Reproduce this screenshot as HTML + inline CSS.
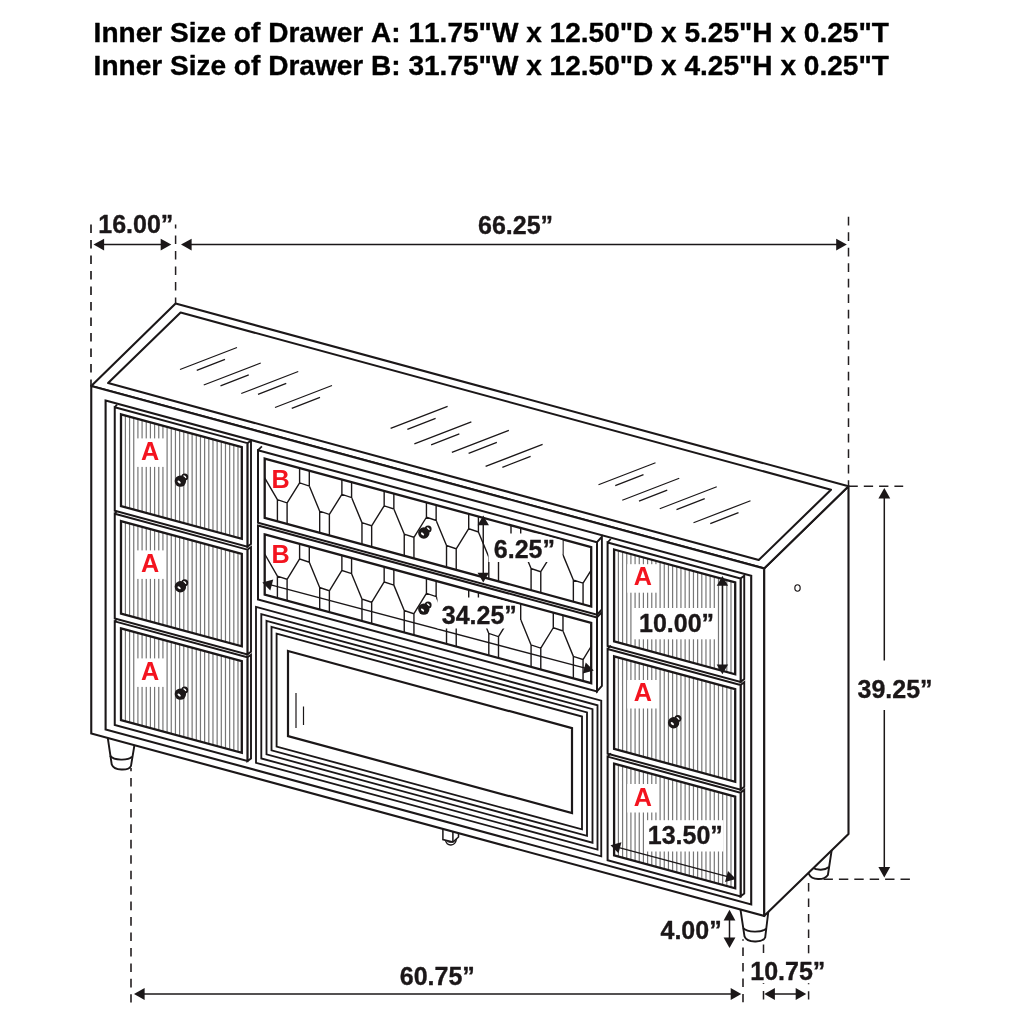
<!DOCTYPE html>
<html lang="en">
<head>
<meta charset="utf-8">
<title>Dresser dimensions</title>
<style>
html,body{margin:0;padding:0;background:#fff;}
body{width:1024px;height:1024px;overflow:hidden;}
svg{display:block;will-change:transform;}
</style>
</head>
<body>
<svg width="1024" height="1024" viewBox="0 0 1024 1024">
<g id="legs">
<path d="M107.50 736.00 L111.70 764.30 C114.20 770.90 128.50 771.10 131.00 765.80 L134.80 743.00 Z" fill="#fff" stroke="#1b1718" stroke-width="1.9" stroke-linejoin="round"/>
<path d="M110.00 755.60 C114.00 760.80 128.00 760.80 132.00 756.60" fill="none" stroke="#1b1718" stroke-width="1.9"/>
<path d="M740.40 909.00 L744.50 936.30 C747.00 942.90 762.70 943.10 765.20 937.30 L768.30 912.00 Z" fill="#fff" stroke="#1b1718" stroke-width="1.9" stroke-linejoin="round"/>
<path d="M743.20 928.20 C747.20 932.70 762.20 932.70 766.20 928.60" fill="none" stroke="#1b1718" stroke-width="1.9"/>
<path d="M805 866 L808.8 873.8 C812 880.5 824 880.6 827.9 875.0 L831.7 850 Z" fill="#fff" stroke="#1b1718" stroke-width="1.9" stroke-linejoin="round"/>
<path d="M812.0 867.2 C817 870.8 825 870.4 829.0 867.0" fill="none" stroke="#1b1718" stroke-width="1.9"/>
<path d="M445.3 839.6 Q446.5 845.2 451 845 Q455.5 844.6 456.5 839" fill="#fff" stroke="#1b1718" stroke-width="1.4"/>
<path d="M447.2 841.6 Q450.5 843.6 454.3 841.2" fill="none" stroke="#1b1718" stroke-width="1"/>
<path d="M442.9 826 L442.9 839.6 L452.9 842.1 L458.5 837.0 L458.5 830 Z" fill="#fff" stroke="#1b1718" stroke-width="1.5" stroke-linejoin="miter"/>
<path d="M452.9 830 L452.9 842.1" fill="none" stroke="#1b1718" stroke-width="1.5"/>
</g>
<g id="body">
<polygon points="764.10,568.48 848.50,486.25 848.50,833.90 764.10,915.98" fill="#fff" stroke="#1b1718" stroke-width="2.1" style="stroke-linejoin:round"/>
<polygon points="91.25,386.00 175.60,303.50 848.50,486.25 764.10,568.48" fill="#fff" stroke="#1b1718" stroke-width="2.1" style="stroke-linejoin:round"/>
<polygon points="108.10,383.10 180.60,312.50 831.00,489.75 758.75,560.00" fill="none" stroke="#1b1718" stroke-width="2.1" style="stroke-linejoin:round"/>
<polygon points="91.25,386.00 764.10,568.48 764.10,915.98 91.25,733.50" fill="#fff" stroke="#1b1718" stroke-width="2.1" />
<polygon points="105.60,400.59 751.20,575.68 751.20,904.48 105.60,729.39" fill="none" stroke="#1b1718" stroke-width="2.1" />
</g>
<g>
<polygon points="247.40,443.15 251.00,440.55 251.00,544.05 247.40,546.65" fill="#fff" stroke="#1b1718" stroke-width="1.9" />
<line x1="114.75" y1="407.17" x2="117.05" y2="404.57" stroke="#1b1718" stroke-width="1.7" />
<polygon points="114.75,407.17 247.40,443.15 247.40,546.65 114.75,510.67" fill="#fff" stroke="#1b1718" stroke-width="2.0" />
<clipPath id="dc1"><polygon points="121.00,414.27 241.80,447.03 241.80,538.83 121.00,506.07"/></clipPath>
<g clip-path="url(#dc1)">
<path d="M125.40 414.46V508.26M129.57 415.59V509.39M133.74 416.72V510.52M137.91 417.85V511.65M142.08 418.99V512.79M146.25 420.12V513.92M150.42 421.25V515.05M154.59 422.38V516.18M158.76 423.51V517.31M162.93 424.64V518.44M167.10 425.77V519.57M171.27 426.90V520.70M175.44 428.03V521.83M179.61 429.16V522.96M183.78 430.29V524.09M187.95 431.43V525.23M192.12 432.56V526.36M196.29 433.69V527.49M200.46 434.82V528.62M204.63 435.95V529.75M208.80 437.08V530.88M212.97 438.21V532.01M217.14 439.34V533.14M221.31 440.47V534.27M225.48 441.60V535.40M229.65 442.73V536.53M233.82 443.86V537.66M237.99 445.00V538.80" stroke="#777777" stroke-width="1.2" fill="none"/>
<rect x="136.90" y="438.40" width="28.80" height="28.50" fill="#fff"/>
</g>
<polygon points="121.00,414.27 241.80,447.03 241.80,538.83 121.00,506.07" fill="none" stroke="#1b1718" stroke-width="2.3" />
</g>
<g>
<polygon points="247.40,549.65 251.00,547.05 251.00,651.75 247.40,654.35" fill="#fff" stroke="#1b1718" stroke-width="1.9" />
<line x1="114.75" y1="513.67" x2="117.05" y2="511.07" stroke="#1b1718" stroke-width="1.7" />
<polygon points="114.75,513.67 247.40,549.65 247.40,654.35 114.75,618.37" fill="#fff" stroke="#1b1718" stroke-width="2.0" />
<clipPath id="dc2"><polygon points="121.00,521.07 241.80,553.83 241.80,646.33 121.00,613.57"/></clipPath>
<g clip-path="url(#dc2)">
<path d="M125.40 521.26V615.76M129.57 522.39V616.89M133.74 523.52V618.02M137.91 524.65V619.15M142.08 525.79V620.29M146.25 526.92V621.42M150.42 528.05V622.55M154.59 529.18V623.68M158.76 530.31V624.81M162.93 531.44V625.94M167.10 532.57V627.07M171.27 533.70V628.20M175.44 534.83V629.33M179.61 535.96V630.46M183.78 537.09V631.59M187.95 538.23V632.73M192.12 539.36V633.86M196.29 540.49V634.99M200.46 541.62V636.12M204.63 542.75V637.25M208.80 543.88V638.38M212.97 545.01V639.51M217.14 546.14V640.64M221.31 547.27V641.77M225.48 548.40V642.90M229.65 549.53V644.03M233.82 550.66V645.16M237.99 551.80V646.30" stroke="#777777" stroke-width="1.2" fill="none"/>
<rect x="136.90" y="550.40" width="28.80" height="28.50" fill="#fff"/>
</g>
<polygon points="121.00,521.07 241.80,553.83 241.80,646.33 121.00,613.57" fill="none" stroke="#1b1718" stroke-width="2.3" />
</g>
<g>
<polygon points="247.40,657.35 251.00,654.75 251.00,758.45 247.40,761.05" fill="#fff" stroke="#1b1718" stroke-width="1.9" />
<line x1="114.75" y1="621.37" x2="117.05" y2="618.77" stroke="#1b1718" stroke-width="1.7" />
<polygon points="114.75,621.37 247.40,657.35 247.40,761.05 114.75,725.07" fill="#fff" stroke="#1b1718" stroke-width="2.0" />
<clipPath id="dc3"><polygon points="121.00,628.47 241.80,661.23 241.80,752.83 121.00,720.07"/></clipPath>
<g clip-path="url(#dc3)">
<path d="M125.40 628.66V722.26M129.57 629.79V723.39M133.74 630.92V724.52M137.91 632.05V725.65M142.08 633.19V726.79M146.25 634.32V727.92M150.42 635.45V729.05M154.59 636.58V730.18M158.76 637.71V731.31M162.93 638.84V732.44M167.10 639.97V733.57M171.27 641.10V734.70M175.44 642.23V735.83M179.61 643.36V736.96M183.78 644.49V738.09M187.95 645.63V739.23M192.12 646.76V740.36M196.29 647.89V741.49M200.46 649.02V742.62M204.63 650.15V743.75M208.80 651.28V744.88M212.97 652.41V746.01M217.14 653.54V747.14M221.31 654.67V748.27M225.48 655.80V749.40M229.65 656.93V750.53M233.82 658.06V751.66M237.99 659.20V752.80" stroke="#777777" stroke-width="1.2" fill="none"/>
<rect x="136.90" y="658.40" width="28.80" height="28.50" fill="#fff"/>
</g>
<polygon points="121.00,628.47 241.80,661.23 241.80,752.83 121.00,720.07" fill="none" stroke="#1b1718" stroke-width="2.3" />
</g>
<g>
<polygon points="740.60,578.50 744.25,575.60 744.25,679.10 740.60,682.00" fill="#fff" stroke="#1b1718" stroke-width="1.9" />
<line x1="607.60" y1="542.43" x2="610.80" y2="539.03" stroke="#1b1718" stroke-width="1.7" />
<polygon points="607.60,542.43 740.60,578.50 740.60,682.00 607.60,645.93" fill="#fff" stroke="#1b1718" stroke-width="2.0" />
<clipPath id="dc4"><polygon points="614.10,549.50 735.20,582.34 735.20,674.24 614.10,641.40"/></clipPath>
<g clip-path="url(#dc4)">
<path d="M618.40 549.66V643.56M622.57 550.79V644.69M626.74 551.92V645.82M630.91 553.06V646.96M635.08 554.19V648.09M639.25 555.32V649.22M643.42 556.45V650.35M647.59 557.58V651.48M651.76 558.71V652.61M655.93 559.84V653.74M660.10 560.97V654.87M664.27 562.10V656.00M668.44 563.23V657.13M672.61 564.36V658.26M676.78 565.50V659.40M680.95 566.63V660.53M685.12 567.76V661.66M689.29 568.89V662.79M693.46 570.02V663.92M697.63 571.15V665.05M701.80 572.28V666.18M705.97 573.41V667.31M710.14 574.54V668.44M714.31 575.67V669.57M718.48 576.80V670.70M722.65 577.94V671.84M726.82 579.07V672.97M730.99 580.20V674.10" stroke="#777777" stroke-width="1.2" fill="none"/>
<rect x="627.30" y="564.20" width="30.50" height="28.50" fill="#fff"/>
<rect x="632.20" y="608.00" width="84.00" height="31.30" fill="#fff"/>
</g>
<polygon points="614.10,549.50 735.20,582.34 735.20,674.24 614.10,641.40" fill="none" stroke="#1b1718" stroke-width="2.3" />
</g>
<g>
<polygon points="740.60,685.00 744.25,682.10 744.25,786.80 740.60,789.70" fill="#fff" stroke="#1b1718" stroke-width="1.9" />
<line x1="607.60" y1="648.93" x2="610.80" y2="645.53" stroke="#1b1718" stroke-width="1.7" />
<polygon points="607.60,648.93 740.60,685.00 740.60,789.70 607.60,753.63" fill="#fff" stroke="#1b1718" stroke-width="2.0" />
<clipPath id="dc5"><polygon points="614.10,656.30 735.20,689.14 735.20,781.74 614.10,748.90"/></clipPath>
<g clip-path="url(#dc5)">
<path d="M618.40 656.46V751.06M622.57 657.59V752.19M626.74 658.72V753.32M630.91 659.86V754.46M635.08 660.99V755.59M639.25 662.12V756.72M643.42 663.25V757.85M647.59 664.38V758.98M651.76 665.51V760.11M655.93 666.64V761.24M660.10 667.77V762.37M664.27 668.90V763.50M668.44 670.03V764.63M672.61 671.16V765.76M676.78 672.30V766.90M680.95 673.43V768.03M685.12 674.56V769.16M689.29 675.69V770.29M693.46 676.82V771.42M697.63 677.95V772.55M701.80 679.08V773.68M705.97 680.21V774.81M710.14 681.34V775.94M714.31 682.47V777.07M718.48 683.60V778.20M722.65 684.74V779.34M726.82 685.87V780.47M730.99 687.00V781.60" stroke="#777777" stroke-width="1.2" fill="none"/>
<rect x="627.30" y="680.00" width="30.50" height="28.50" fill="#fff"/>
</g>
<polygon points="614.10,656.30 735.20,689.14 735.20,781.74 614.10,748.90" fill="none" stroke="#1b1718" stroke-width="2.3" />
</g>
<g>
<polygon points="740.60,792.70 744.25,789.80 744.25,893.50 740.60,896.40" fill="#fff" stroke="#1b1718" stroke-width="1.9" />
<line x1="607.60" y1="756.63" x2="610.80" y2="753.23" stroke="#1b1718" stroke-width="1.7" />
<polygon points="607.60,756.63 740.60,792.70 740.60,896.40 607.60,860.33" fill="#fff" stroke="#1b1718" stroke-width="2.0" />
<clipPath id="dc6"><polygon points="614.10,763.70 735.20,796.54 735.20,888.24 614.10,855.40"/></clipPath>
<g clip-path="url(#dc6)">
<path d="M618.40 763.86V857.56M622.57 764.99V858.69M626.74 766.12V859.82M630.91 767.26V860.96M635.08 768.39V862.09M639.25 769.52V863.22M643.42 770.65V864.35M647.59 771.78V865.48M651.76 772.91V866.61M655.93 774.04V867.74M660.10 775.17V868.87M664.27 776.30V870.00M668.44 777.43V871.13M672.61 778.56V872.26M676.78 779.70V873.40M680.95 780.83V874.53M685.12 781.96V875.66M689.29 783.09V876.79M693.46 784.22V877.92M697.63 785.35V879.05M701.80 786.48V880.18M705.97 787.61V881.31M710.14 788.74V882.44M714.31 789.87V883.57M718.48 791.00V884.70M722.65 792.14V885.84M726.82 793.27V886.97M730.99 794.40V888.10" stroke="#777777" stroke-width="1.2" fill="none"/>
<rect x="627.30" y="784.00" width="30.50" height="28.50" fill="#fff"/>
<rect x="646.00" y="820.20" width="77.50" height="31.30" fill="#fff"/>
</g>
<polygon points="614.10,763.70 735.20,796.54 735.20,888.24 614.10,855.40" fill="none" stroke="#1b1718" stroke-width="2.3" />
</g>
<g>
<polygon points="597.00,542.16 601.90,536.76 601.90,609.36 597.00,614.76" fill="#fff" stroke="#1b1718" stroke-width="1.9" />
<line x1="258.00" y1="450.22" x2="261.90" y2="446.42" stroke="#1b1718" stroke-width="1.7" />
<polygon points="258.00,450.22 597.00,542.16 597.00,614.76 258.00,522.82" fill="#fff" stroke="#1b1718" stroke-width="2.0" />
<clipPath id="dc7"><polygon points="264.70,458.54 591.20,547.09 591.20,606.49 264.70,517.94"/></clipPath>
<g clip-path="url(#dc7)">
<path d="M264.70 477.84L277.40 499.70M299.60 468.00L299.60 482.85L309.30 486.09L309.30 470.64M277.40 521.38L277.40 499.70L287.10 502.93L287.10 524.01M287.10 502.93L299.60 482.85M309.30 486.09L319.68 511.17M341.88 479.47L341.88 494.32L351.58 497.55L351.58 482.10M319.68 532.85L319.68 511.17L329.38 514.40L329.38 535.48M329.38 514.40L341.88 494.32M351.58 497.55L361.96 522.64M384.16 490.94L384.16 505.79L393.86 509.02L393.86 493.57M361.96 544.32L361.96 522.64L371.66 525.87L371.66 546.95M371.66 525.87L384.16 505.79M393.86 509.02L404.24 534.10M426.44 502.40L426.44 517.25L436.14 520.48L436.14 505.03M404.24 555.78L404.24 534.10L413.94 537.33L413.94 558.41M413.94 537.33L426.44 517.25M436.14 520.48L446.52 545.57M468.72 513.87L468.72 528.72L478.42 531.95L478.42 516.50M446.52 567.25L446.52 545.57L456.22 548.80L456.22 569.88M456.22 548.80L468.72 528.72M478.42 531.95L488.80 557.03M511.00 525.34L511.00 540.19L520.70 543.42L520.70 527.97M488.80 578.72L488.80 557.03L498.50 560.27L498.50 581.35M498.50 560.27L511.00 540.19M520.70 543.42L531.08 568.50M553.28 536.80L553.28 551.65L562.98 554.88L562.98 539.43M531.08 590.18L531.08 568.50L540.78 571.73L540.78 592.81M540.78 571.73L553.28 551.65M562.98 554.88L573.36 579.97M595.56 548.27L595.56 563.12L605.26 566.35L605.26 550.90M573.36 601.65L573.36 579.97L583.06 583.20L583.06 604.28M583.06 583.20L595.56 563.12M605.26 566.35L615.64 591.43" fill="none" stroke="#1b1718" stroke-width="1.4" stroke-linejoin="miter"/>
</g>
<polygon points="264.70,458.54 591.20,547.09 591.20,606.49 264.70,517.94" fill="none" stroke="#1b1718" stroke-width="2.3" />
</g>
<g>
<polygon points="597.00,617.46 601.90,612.06 601.90,685.96 597.00,691.36" fill="#fff" stroke="#1b1718" stroke-width="1.9" />
<line x1="258.00" y1="525.52" x2="258.01" y2="525.51" stroke="#1b1718" stroke-width="1.7" />
<polygon points="258.00,525.52 597.00,617.46 597.00,691.36 258.00,599.42" fill="#fff" stroke="#1b1718" stroke-width="2.0" />
<clipPath id="dc8"><polygon points="264.70,534.44 591.20,622.99 591.20,683.19 264.70,594.64"/></clipPath>
<g clip-path="url(#dc8)">
<path d="M264.70 554.00L277.40 576.11M299.60 543.90L299.60 558.95L309.30 562.19L309.30 546.54M277.40 598.08L277.40 576.11L287.10 579.34L287.10 600.71M287.10 579.34L299.60 558.95M309.30 562.19L319.68 587.58M341.88 555.37L341.88 570.42L351.58 573.65L351.58 558.00M319.68 609.55L319.68 587.58L329.38 590.81L329.38 612.18M329.38 590.81L341.88 570.42M351.58 573.65L361.96 599.04M384.16 566.84L384.16 581.89L393.86 585.12L393.86 569.47M361.96 621.02L361.96 599.04L371.66 602.27L371.66 623.65M371.66 602.27L384.16 581.89M393.86 585.12L404.24 610.51M426.44 578.30L426.44 593.35L436.14 596.58L436.14 580.93M404.24 632.48L404.24 610.51L413.94 613.74L413.94 635.11M413.94 613.74L426.44 593.35M436.14 596.58L446.52 621.98M468.72 589.77L468.72 604.82L478.42 608.05L478.42 592.40M446.52 643.95L446.52 621.98L456.22 625.21L456.22 646.58M456.22 625.21L468.72 604.82M478.42 608.05L488.80 633.44M511.00 601.24L511.00 616.29L520.70 619.52L520.70 603.87M488.80 655.42L488.80 633.44L498.50 636.67L498.50 658.05M498.50 636.67L511.00 616.29M520.70 619.52L531.08 644.91M553.28 612.70L553.28 627.75L562.98 630.98L562.98 615.33M531.08 666.88L531.08 644.91L540.78 648.14L540.78 669.51M540.78 648.14L553.28 627.75M562.98 630.98L573.36 656.38M595.56 624.17L595.56 639.22L605.26 642.45L605.26 626.80M573.36 678.35L573.36 656.38L583.06 659.61L583.06 680.98M583.06 659.61L595.56 639.22M605.26 642.45L615.64 667.84" fill="none" stroke="#1b1718" stroke-width="1.4" stroke-linejoin="miter"/>
</g>
<polygon points="264.70,534.44 591.20,622.99 591.20,683.19 264.70,594.64" fill="none" stroke="#1b1718" stroke-width="2.3" />
</g>
<polygon points="256.00,606.98 601.25,700.61 601.25,856.41 256.00,762.78" fill="#fff" stroke="#1b1718" stroke-width="1.85" />
<polygon points="261.30,614.12 597.50,705.29 597.50,849.59 261.30,758.42" fill="none" stroke="#1b1718" stroke-width="1.85" />
<polygon points="266.50,620.78 592.50,709.19 592.50,842.74 266.50,754.33" fill="none" stroke="#1b1718" stroke-width="1.85" />
<polygon points="271.50,626.78 587.00,712.35 587.00,835.85 271.50,750.28" fill="none" stroke="#1b1718" stroke-width="1.85" />
<polygon points="276.60,633.72 582.00,716.54 582.00,829.39 276.60,746.57" fill="none" stroke="#1b1718" stroke-width="1.85" />
<polygon points="288.00,651.06 572.00,728.08 572.00,813.08 288.00,736.06" fill="none" stroke="#1b1718" stroke-width="2.2" />
<line x1="296.00" y1="693.00" x2="296.00" y2="728.00" stroke="#1b1718" stroke-width="1.2" />
<line x1="303.50" y1="706.50" x2="303.50" y2="725.00" stroke="#1b1718" stroke-width="1.2" />
<line x1="483.25" y1="524.30" x2="483.25" y2="573.70" stroke="#1b1718" stroke-width="1.4" />
<polygon points="483.25,515.50 477.55,525.30 488.95,525.30" fill="#1b1718" stroke="none" stroke-width="0" />
<polygon points="483.25,582.50 477.55,572.70 488.95,572.70" fill="#1b1718" stroke="none" stroke-width="0" />
<line x1="270.81" y1="584.86" x2="585.24" y2="668.24" stroke="#1b1718" stroke-width="1.3" />
<polygon points="262.30,582.60 270.31,590.62 273.23,579.60" fill="#1b1718" stroke="none" stroke-width="0" />
<polygon points="593.75,670.50 582.82,673.50 585.74,662.48" fill="#1b1718" stroke="none" stroke-width="0" />
<line x1="722.40" y1="584.80" x2="722.40" y2="665.45" stroke="#1b1718" stroke-width="1.5" />
<polygon points="722.40,576.00 716.70,585.80 728.10,585.80" fill="#1b1718" stroke="none" stroke-width="0" />
<polygon points="722.40,674.25 716.70,664.45 728.10,664.45" fill="#1b1718" stroke="none" stroke-width="0" />
<line x1="619.00" y1="847.54" x2="727.50" y2="876.71" stroke="#1b1718" stroke-width="1.3" />
<polygon points="610.50,845.25 618.48,853.30 621.44,842.29" fill="#1b1718" stroke="none" stroke-width="0" />
<polygon points="736.00,879.00 725.06,881.96 728.02,870.95" fill="#1b1718" stroke="none" stroke-width="0" />
<g transform="translate(180.40 480.60)">
<circle cx="4.3" cy="-3.6" r="3.5" fill="#1b1718"/>
<ellipse cx="4.4" cy="-3.8" rx="1.9" ry="0.95" fill="#fff" transform="rotate(42 4.4 -3.8)"/>
<circle cx="0" cy="0.5" r="5.7" fill="#1b1718"/>
<ellipse cx="-1.25" cy="1.45" rx="1.95" ry="1.05" fill="#fff" transform="rotate(42 -1.25 1.45)"/>
</g>
<g transform="translate(180.40 586.30)">
<circle cx="4.3" cy="-3.6" r="3.5" fill="#1b1718"/>
<ellipse cx="4.4" cy="-3.8" rx="1.9" ry="0.95" fill="#fff" transform="rotate(42 4.4 -3.8)"/>
<circle cx="0" cy="0.5" r="5.7" fill="#1b1718"/>
<ellipse cx="-1.25" cy="1.45" rx="1.95" ry="1.05" fill="#fff" transform="rotate(42 -1.25 1.45)"/>
</g>
<g transform="translate(180.40 693.60)">
<circle cx="4.3" cy="-3.6" r="3.5" fill="#1b1718"/>
<ellipse cx="4.4" cy="-3.8" rx="1.9" ry="0.95" fill="#fff" transform="rotate(42 4.4 -3.8)"/>
<circle cx="0" cy="0.5" r="5.7" fill="#1b1718"/>
<ellipse cx="-1.25" cy="1.45" rx="1.95" ry="1.05" fill="#fff" transform="rotate(42 -1.25 1.45)"/>
</g>
<g transform="translate(423.80 532.50)">
<circle cx="4.3" cy="-3.6" r="3.5" fill="#1b1718"/>
<ellipse cx="4.4" cy="-3.8" rx="1.9" ry="0.95" fill="#fff" transform="rotate(42 4.4 -3.8)"/>
<circle cx="0" cy="0.5" r="5.7" fill="#1b1718"/>
<ellipse cx="-1.25" cy="1.45" rx="1.95" ry="1.05" fill="#fff" transform="rotate(42 -1.25 1.45)"/>
</g>
<g transform="translate(423.80 608.60)">
<circle cx="4.3" cy="-3.6" r="3.5" fill="#1b1718"/>
<ellipse cx="4.4" cy="-3.8" rx="1.9" ry="0.95" fill="#fff" transform="rotate(42 4.4 -3.8)"/>
<circle cx="0" cy="0.5" r="5.7" fill="#1b1718"/>
<ellipse cx="-1.25" cy="1.45" rx="1.95" ry="1.05" fill="#fff" transform="rotate(42 -1.25 1.45)"/>
</g>
<g transform="translate(673.60 722.20)">
<circle cx="4.3" cy="-3.6" r="3.5" fill="#1b1718"/>
<ellipse cx="4.4" cy="-3.8" rx="1.9" ry="0.95" fill="#fff" transform="rotate(42 4.4 -3.8)"/>
<circle cx="0" cy="0.5" r="5.7" fill="#1b1718"/>
<ellipse cx="-1.25" cy="1.45" rx="1.95" ry="1.05" fill="#fff" transform="rotate(42 -1.25 1.45)"/>
</g>
<ellipse cx="797.5" cy="588" rx="2.7" ry="3.2" fill="#fff" stroke="#1b1718" stroke-width="1.1"/>
<path d="M180.00 369.50L237.00 347.50M196.75 370.40L225.00 359.40M203.75 385.00L260.75 363.00M220.50 385.90L248.75 374.90M241.25 393.50L298.25 371.50M258.00 394.40L286.25 383.40M275.00 407.50L332.00 385.50M291.75 408.40L320.00 397.40M390.60 428.40L447.60 406.40M407.35 429.30L435.60 418.30M414.35 443.90L471.35 421.90M431.10 444.80L459.35 433.80M451.85 452.40L508.85 430.40M468.60 453.30L496.85 442.30M485.60 466.40L542.60 444.40M502.35 467.30L530.60 456.30M598.50 484.75L655.50 462.75M615.25 485.65L643.50 474.65M622.25 500.25L679.25 478.25M639.00 501.15L667.25 490.15M659.75 508.75L716.75 486.75M676.50 509.65L704.75 498.65M693.50 522.75L750.50 500.75M710.25 523.65L738.50 512.65" stroke="#1b1718" stroke-width="1.25" fill="none"/>
<g id="dims">
<line x1="91.00" y1="224.50" x2="91.00" y2="386.00" stroke="#231f20" stroke-width="1.7" stroke-dasharray="8.5 7" stroke-dashoffset="0"/>
<line x1="175.60" y1="224.40" x2="175.60" y2="303.50" stroke="#231f20" stroke-width="1.5" stroke-dasharray="8.5 7" stroke-dashoffset="4.3"/>
<line x1="848.50" y1="216.80" x2="848.50" y2="486.00" stroke="#231f20" stroke-width="1.5" stroke-dasharray="8.7 6.8" stroke-dashoffset="0"/>
<line x1="848.50" y1="486.30" x2="903.20" y2="486.30" stroke="#231f20" stroke-width="1.5" stroke-dasharray="9.3 6.0" stroke-dashoffset="0"/>
<line x1="823.50" y1="879.30" x2="910.00" y2="879.30" stroke="#231f20" stroke-width="1.5" stroke-dasharray="9.4 6.0" stroke-dashoffset="0"/>
<line x1="131.00" y1="768.00" x2="131.00" y2="1002.40" stroke="#231f20" stroke-width="1.6" stroke-dasharray="8.6 6.85" stroke-dashoffset="5.45"/>
<line x1="743.00" y1="939.30" x2="743.00" y2="1002.30" stroke="#231f20" stroke-width="1.6" stroke-dasharray="8.5 6.95" stroke-dashoffset="7.15"/>
<line x1="763.50" y1="944.60" x2="763.50" y2="999.60" stroke="#231f20" stroke-width="1.5" stroke-dasharray="8.5 6.95" stroke-dashoffset="0"/>
<line x1="808.60" y1="883.10" x2="808.60" y2="999.60" stroke="#231f20" stroke-width="1.5" stroke-dasharray="8.5 6.95" stroke-dashoffset="0"/>
<rect x="749.00" y="953.60" width="78.00" height="29.60" fill="#fff"/>
<line x1="103.10" y1="244.60" x2="161.70" y2="244.60" stroke="#1b1718" stroke-width="1.5" />
<polygon points="93.50,244.60 104.10,238.70 104.10,250.50" fill="#1b1718" stroke="none" stroke-width="0" />
<polygon points="171.30,244.60 160.70,238.70 160.70,250.50" fill="#1b1718" stroke="none" stroke-width="0" />
<line x1="190.60" y1="244.60" x2="837.20" y2="244.60" stroke="#1b1718" stroke-width="1.5" />
<polygon points="181.00,244.60 191.60,238.70 191.60,250.50" fill="#1b1718" stroke="none" stroke-width="0" />
<polygon points="846.80,244.60 836.20,238.70 836.20,250.50" fill="#1b1718" stroke="none" stroke-width="0" />
<line x1="143.60" y1="994.00" x2="731.70" y2="994.00" stroke="#1b1718" stroke-width="1.5" />
<polygon points="134.00,994.00 144.60,988.10 144.60,999.90" fill="#1b1718" stroke="none" stroke-width="0" />
<polygon points="741.30,994.00 730.70,988.10 730.70,999.90" fill="#1b1718" stroke="none" stroke-width="0" />
<line x1="773.90" y1="994.00" x2="796.70" y2="994.00" stroke="#1b1718" stroke-width="1.5" />
<polygon points="764.30,994.00 774.90,988.10 774.90,999.90" fill="#1b1718" stroke="none" stroke-width="0" />
<polygon points="806.30,994.00 795.70,988.10 795.70,999.90" fill="#1b1718" stroke="none" stroke-width="0" />
<line x1="884.30" y1="497.60" x2="884.30" y2="660.50" stroke="#1b1718" stroke-width="1.5" />
<line x1="884.30" y1="710.00" x2="884.30" y2="867.90" stroke="#1b1718" stroke-width="1.5" />
<polygon points="884.30,488.00 878.40,498.60 890.20,498.60" fill="#1b1718" stroke="none" stroke-width="0" />
<polygon points="884.30,877.50 878.40,866.90 890.20,866.90" fill="#1b1718" stroke="none" stroke-width="0" />
<line x1="729.50" y1="919.40" x2="729.50" y2="938.40" stroke="#1b1718" stroke-width="1.5" />
<polygon points="729.50,909.80 723.60,920.40 735.40,920.40" fill="#1b1718" stroke="none" stroke-width="0" />
<polygon points="729.50,948.00 723.60,937.40 735.40,937.40" fill="#1b1718" stroke="none" stroke-width="0" />
</g>
<g font-family="'Liberation Sans', Arial, Helvetica, sans-serif" font-weight="bold" style="font-kerning:none">
<text x="93.60" y="42.00" font-size="28.05" fill="#000" stroke="#000" stroke-width="0.35" stroke-linejoin="round" text-anchor="start" >Inner Size of Drawer A: 11.75"W x 12.50"D x 5.25"H x 0.25"T</text>
<text x="93.60" y="75.40" font-size="28.05" fill="#000" stroke="#000" stroke-width="0.35" stroke-linejoin="round" text-anchor="start" >Inner Size of Drawer B: 31.75"W x 12.50"D x 4.25"H x 0.25"T</text>
<text x="98.30" y="233.30" font-size="25" fill="#1b1718" stroke="#1b1718" stroke-width="0.35" stroke-linejoin="round" text-anchor="start" >16.00”</text>
<text x="478.00" y="234.30" font-size="25" fill="#1b1718" stroke="#1b1718" stroke-width="0.35" stroke-linejoin="round" text-anchor="start" >66.25”</text>
<text x="857.50" y="697.60" font-size="25" fill="#1b1718" stroke="#1b1718" stroke-width="0.35" stroke-linejoin="round" text-anchor="start" >39.25”</text>
<text x="399.80" y="985.30" font-size="25" fill="#1b1718" stroke="#1b1718" stroke-width="0.35" stroke-linejoin="round" text-anchor="start" >60.75”</text>
<text x="750.30" y="980.30" font-size="25" fill="#1b1718" stroke="#1b1718" stroke-width="0.35" stroke-linejoin="round" text-anchor="start" >10.75”</text>
<text x="660.50" y="938.60" font-size="25" fill="#1b1718" stroke="#1b1718" stroke-width="0.35" stroke-linejoin="round" text-anchor="start" >4.00”</text>
<clipPath id="lb1"><polygon points="264.70,459.54 591.20,548.09 591.20,605.29 264.70,516.74"/></clipPath>
<clipPath id="lb2"><polygon points="264.70,535.64 591.20,624.19 591.20,681.99 264.70,593.44"/></clipPath>
<g clip-path="url(#lb1)">
<rect x="488.50" y="533.50" width="74.00" height="28.50" fill="#fff"/>
</g>
<g clip-path="url(#lb2)">
<rect x="437.50" y="597.50" width="82.50" height="31.00" fill="#fff"/>
</g>
<text x="493.80" y="557.60" font-size="25" fill="#1b1718" stroke="#1b1718" stroke-width="0.35" stroke-linejoin="round" text-anchor="start" >6.25”</text>
<text x="441.80" y="623.70" font-size="25" fill="#1b1718" stroke="#1b1718" stroke-width="0.35" stroke-linejoin="round" text-anchor="start" >34.25”</text>
<text x="639.00" y="631.80" font-size="25" fill="#1b1718" stroke="#1b1718" stroke-width="0.35" stroke-linejoin="round" text-anchor="start" >10.00”</text>
<text x="647.80" y="844.10" font-size="25" fill="#1b1718" stroke="#1b1718" stroke-width="0.35" stroke-linejoin="round" text-anchor="start" >13.50”</text>
<text x="141.10" y="460.40" font-size="25.2" fill="#f3141f">A</text>
<text x="141.10" y="572.30" font-size="25.2" fill="#f3141f">A</text>
<text x="141.10" y="680.30" font-size="25.2" fill="#f3141f">A</text>
<text x="271.60" y="487.60" font-size="25.2" fill="#f3141f">B</text>
<text x="271.60" y="563.40" font-size="25.2" fill="#f3141f">B</text>
<text x="633.70" y="585.40" font-size="25.2" fill="#f3141f">A</text>
<text x="633.70" y="701.30" font-size="25.2" fill="#f3141f">A</text>
<text x="633.70" y="805.80" font-size="25.2" fill="#f3141f">A</text>
</g>
</svg>
</body>
</html>
